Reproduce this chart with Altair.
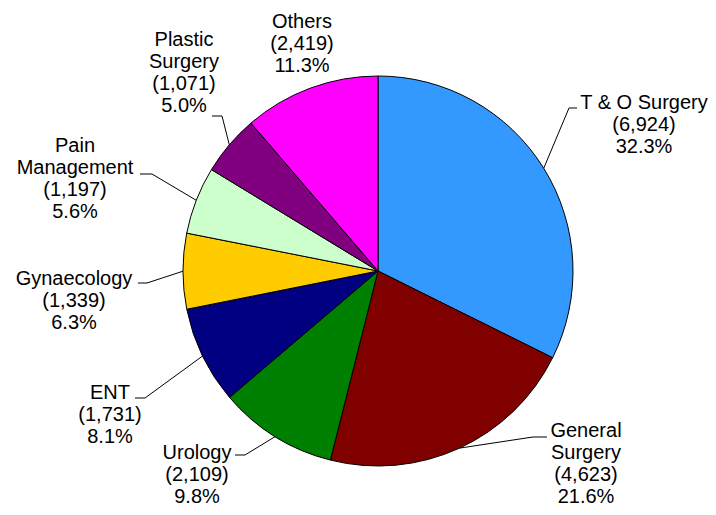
import math
import altair as alt
import pandas as pd

# ---- data -------------------------------------------------------------
names = ["T & O Surgery", "General Surgery", "Urology", "ENT", "Gynaecology",
         "Pain Management", "Plastic Surgery", "Others"]
label_names = ["T & O Surgery", "General\nSurgery", "Urology", "ENT", "Gynaecology",
               "Pain\nManagement", "Plastic\nSurgery", "Others"]
values = [6924, 4623, 2109, 1731, 1339, 1197, 1071, 2419]
colors = ["#3399FF", "#800000", "#008000", "#000080", "#FFCC00",
          "#CCFFCC", "#800080", "#FF00FF"]

# ---- layout (page pixels) ---------------------------------------------
W, H = 700, 499
M = 8
CX, CY, R = 378 - M, 271 - M, 195
# text centre x, first baseline y, elbow point, leader end point
label_layout = {
    "T & O Surgery":   (644, 109, (569, 108), (577, 108)),
    "General Surgery": (586, 437, (533, 437), (547, 437)),
    "Urology":         (197, 459, (245, 455), (235, 455)),
    "ENT":             (110, 399, (145, 398), (135, 398)),
    "Gynaecology":     (74, 285, (147, 283), (138, 283)),
    "Pain Management": (75, 152, (152, 174), (140, 174)),
    "Plastic Surgery": (184, 46, (222, 116), (212, 116)),
    "Others":          (302, 28, None, None),
}

total = sum(values)
rows, text_rows, seg_rows = [], [], []
cum = 0
for i, (n, ln, v) in enumerate(zip(names, label_names, values)):
    rows.append({"name": n, "value": v, "idx": i})
    mid = (cum + v / 2) / total * 2 * math.pi
    cum += v
    ex = CX + R * math.sin(mid)
    ey = CY - R * math.cos(mid)
    tx, ty, elbow, end = label_layout[n]
    pct = v / total * 100
    text_rows.append({"name": n, "tx": tx - M, "ty": ty - M,
                      "label": f"{ln}\n({v:,})\n{pct:.1f}%"})
    if elbow is not None:
        bx, by = elbow[0] - M, elbow[1] - M
        qx, qy = end[0] - M, end[1] - M
        seg_rows.append({"x1": ex, "y1": ey, "x2": bx, "y2": by})
        seg_rows.append({"x1": bx, "y1": by, "x2": qx, "y2": qy})

df = pd.DataFrame(rows)
tdf = pd.DataFrame(text_rows)
sdf = pd.DataFrame(seg_rows)

xs = alt.Scale(domain=[0, W], range=[0, W], nice=False, zero=False)
ys = alt.Scale(domain=[0, H], range=[0, H], nice=False, zero=False)

pie = alt.Chart(df).mark_arc(outerRadius=R, stroke="black", strokeWidth=1).encode(
    theta=alt.Theta("value:Q", stack=True),
    order=alt.Order("idx:Q", sort="ascending"),
    color=alt.Color("name:N", scale=alt.Scale(domain=names, range=colors), legend=None),
    x=alt.value(CX),
    y=alt.value(CY),
)

leaders = alt.Chart(sdf).mark_rule(color="black", strokeWidth=1).encode(
    x=alt.X("x1:Q", scale=xs, axis=None),
    y=alt.Y("y1:Q", scale=ys, axis=None),
    x2="x2:Q",
    y2="y2:Q",
)

labels = alt.Chart(tdf).mark_text(
    lineBreak="\n", align="center", baseline="alphabetic",
    fontSize=20, lineHeight=22, font="Liberation Sans", color="black",
).encode(
    x=alt.X("tx:Q", scale=xs, axis=None),
    y=alt.Y("ty:Q", scale=ys, axis=None),
    text="label:N",
)

chart = alt.layer(pie, leaders, labels).properties(
    width=W, height=H, padding=0, autosize="none"
).configure(background="white").configure_view(stroke=None, strokeWidth=0)

chart.save("out.html", embed_options={"renderer": "svg", "actions": False})
